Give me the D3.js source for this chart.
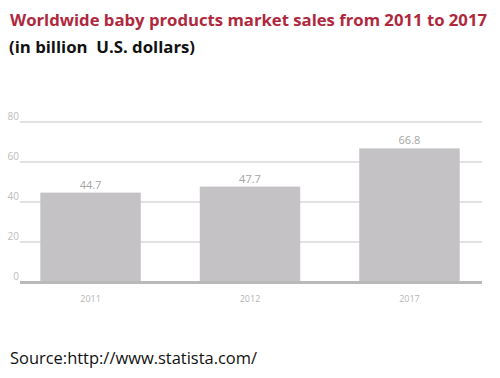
<!DOCTYPE html>
<html><head><meta charset="utf-8">
<script src="https://cdn.jsdelivr.net/npm/d3@7"></script>
<style>html,body{margin:0;padding:0;background:#fff;}</style>
</head><body>
<script>
const years = ["2011", "2012", "2017"];
const sales = [44.7, 47.7, 66.8];
const yTicks = [0, 20, 40, 60, 80];
const titleText = "Worldwide baby products market sales from 2011 to 2017";
const subtitleText = "(in billion  U.S. dollars)";
const sourceText = "Source:http://www.statista.com/";

const W = 500, H = 378;
const svg = d3.select("body").append("svg").attr("width", W).attr("height", H);

const x = d3.scaleBand().domain(years).range([10, 490]).paddingInner(0.37).paddingOuter(0.19);
const y = d3.scaleLinear().domain([0, 80]).range([282, 122]);

// gridlines
svg.append("g").selectAll("line").data(yTicks.filter(d => d > 0)).join("line")
  .attr("x1", 20).attr("x2", 482)
  .attr("y1", d => y(d)).attr("y2", d => y(d))
  .attr("stroke", "#c4c4c4").attr("stroke-width", 1);

// tick labels
svg.append("g").selectAll("text").data(yTicks).join("text")
  .attr("x", 19).attr("y", d => y(d) - 2)
  .attr("text-anchor", "end")
  .attr("font-family", "Open Sans, sans-serif").attr("font-size", 10)
  .attr("fill", "#bdbdbd").text(d => d);

// bars
svg.append("g").selectAll("rect").data(sales).join("rect")
  .attr("x", (d, i) => x(years[i])).attr("width", x.bandwidth())
  .attr("y", d => y(d)).attr("height", d => y(0) - y(d))
  .attr("fill", "#c4c2c5");

// baseline
svg.append("line").attr("x1", 20).attr("x2", 482).attr("y1", y(0) + 0.5).attr("y2", y(0) + 0.5)
  .attr("stroke", "#b9b9b9").attr("stroke-width", 3);

// value labels
svg.append("g").selectAll("text").data(sales).join("text")
  .attr("x", (d, i) => x(years[i]) + x.bandwidth() / 2).attr("y", d => y(d) - 4)
  .attr("text-anchor", "middle")
  .attr("font-family", "Open Sans, sans-serif").attr("font-size", 11)
  .attr("fill", "#a5a5a5").text(d => d.toFixed(1));

// x labels
svg.append("g").selectAll("text").data(years).join("text")
  .attr("x", d => x(d) + x.bandwidth() / 2).attr("y", 302)
  .attr("text-anchor", "middle")
  .attr("font-family", "Open Sans, sans-serif").attr("font-size", 9)
  .attr("fill", "#b5b5b5").text(d => d);

// title
svg.append("text").attr("x", 10).attr("y", 26)
  .attr("font-family", "Open Sans, sans-serif").attr("font-weight", "bold").attr("font-size", 15.5)
  .attr("fill", "#b0283e").attr("textLength", 477).attr("lengthAdjust", "spacingAndGlyphs").text(titleText);

svg.append("text").attr("x", 9).attr("y", 53)
  .style("white-space", "pre")
  .attr("font-family", "Open Sans, sans-serif").attr("font-weight", "bold").attr("font-size", 15.5)
  .attr("fill", "#111").attr("textLength", 186).attr("lengthAdjust", "spacingAndGlyphs").text(subtitleText);

svg.append("text").attr("x", 10).attr("y", 364)
  .attr("font-family", "Open Sans, sans-serif").attr("font-size", 16)
  .attr("fill", "#111").attr("textLength", 247).attr("lengthAdjust", "spacingAndGlyphs").text(sourceText);
</script>
</body></html>
